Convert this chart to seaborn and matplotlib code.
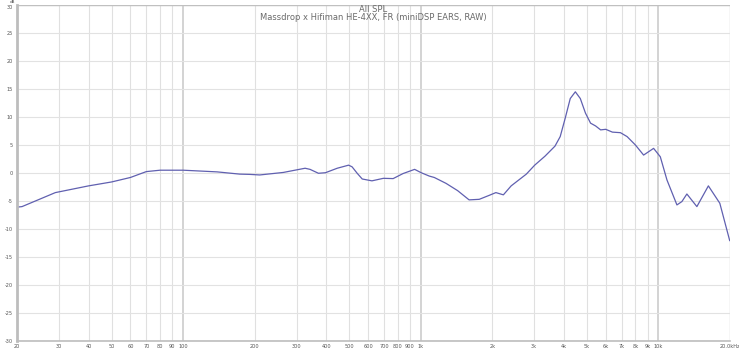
import matplotlib
matplotlib.use("Agg")
import matplotlib.pyplot as plt
import seaborn as sns
import pandas as pd
from matplotlib.ticker import FixedLocator, NullLocator, FixedFormatter

freq_hz = [20, 21, 29, 40, 50, 60, 70, 80, 100, 139, 173, 191, 210, 264, 326, 342,
           371, 397, 445, 497, 514, 540, 567, 623, 696, 765, 842, 942, 1004, 1086,
           1140, 1277, 1429, 1597, 1762, 1938, 2070, 2226, 2400, 2780, 3015, 3330,
           3670, 3860, 4050, 4255, 4470, 4690, 4930, 5180, 5440, 5710, 6000, 6400,
           6920, 7380, 8000, 8660, 9540, 10180, 10860, 11960, 12550, 13170, 14510,
           16220, 18120, 19950]
spl_db = [-6.1, -6.0, -3.5, -2.3, -1.6, -0.8, 0.25, 0.5, 0.5, 0.2, -0.2, -0.25, -0.35,
          0.1, 0.85, 0.65, -0.05, 0.05, 0.85, 1.4, 1.1, -0.05, -1.07, -1.4, -0.95,
          -1.0, -0.1, 0.65, 0.05, -0.55, -0.8, -1.85, -3.15, -4.8, -4.7, -4.0, -3.5,
          -3.9, -2.3, -0.2, 1.4, 3.0, 4.8, 6.5, 9.75, 13.3, 14.5, 13.3, 10.7, 8.9,
          8.4, 7.7, 7.8, 7.3, 7.2, 6.5, 5.0, 3.2, 4.4, 2.9, -1.25, -5.7, -5.1, -3.75,
          -6.0, -2.3, -5.4, -12.1]

x_ticks = [20, 30, 40, 50, 60, 70, 80, 90, 100, 200, 300, 400, 500, 600, 700, 800,
           900, 1000, 2000, 3000, 4000, 5000, 6000, 7000, 8000, 9000, 10000, 20000]
x_labels = ["20", "30", "40", "50", "60", "70", "80", "90", "100", "200", "300", "400",
            "500", "600", "700", "800", "900", "1k", "2k", "3k", "4k", "5k", "6k", "7k",
            "8k", "9k", "10k", "20.0kHz"]
y_ticks = [-30, -25, -20, -15, -10, -5, 0, 5, 10, 15, 20, 25, 30]
y_labels = [str(v) for v in y_ticks]

title = "All SPL"
subtitle = "Massdrop x Hifiman HE-4XX, FR (miniDSP EARS, RAW)"

sns.set_style("white")
plt.rcParams['font.family'] = ['DejaVu Sans']

df = pd.DataFrame({"freq": freq_hz, "spl": spl_db})

fig = plt.figure(figsize=(7.39, 3.49), dpi=100)
ax = fig.add_axes([17/739, 8/349, 713/739, 336/349])

sns.lineplot(data=df, x="freq", y="spl", ax=ax, color="#6060b0", linewidth=0.9,
             estimator=None)

ax.set_xscale("log")
ax.set_xlim(20, 20000)
ax.set_ylim(-30, 30)
ax.xaxis.set_major_locator(FixedLocator(x_ticks))
ax.xaxis.set_major_formatter(FixedFormatter(x_labels))
ax.xaxis.set_minor_locator(NullLocator())
ax.set_yticks(y_ticks)
ax.set_yticklabels(y_labels)
ax.set_xlabel("")
ax.set_ylabel("")

for xv in x_ticks:
    if xv in (100, 1000, 10000):
        ax.axvline(xv, color="#c8c8c8", lw=1.1, zorder=0)
    elif xv not in (20, 20000):
        ax.axvline(xv, color="#e0e0e0", lw=0.8, zorder=0)
ax.axvline(20000, color="#d4d4d4", lw=1.0, zorder=0)
for yv in y_ticks:
    ax.axhline(yv, color="#e2e2e2", lw=0.8, zorder=0)
ax.axhline(30, color="#c0c0c0", lw=1.0, zorder=0)

for s in ("top", "right"):
    ax.spines[s].set_visible(False)
ax.spines["left"].set_color("#bdbdbd")
ax.spines["left"].set_linewidth(2.0)
ax.spines["bottom"].set_color("#bdbdbd")
ax.spines["bottom"].set_linewidth(1.2)

ax.tick_params(axis="both", length=0, labelsize=3.6, labelcolor="#555555", pad=2)
ax.tick_params(axis="y", pad=3)
# nudge the top "30" label slightly down so the "dB" unit sits clear above it
ax.get_yticklabels()[-1].set_va("top")

fig.text(13/739, 1.0, "dB", fontsize=3.0, color="#555555",
         ha="center", va="top")

ax.text(0.5, 0.999, title, transform=ax.transAxes, fontsize=6, color="#6a6a6a",
        ha="center", va="top")
ax.text(0.5, 0.975, subtitle, transform=ax.transAxes, fontsize=6, color="#6a6a6a",
        ha="center", va="top")

fig.savefig("out.png", dpi=100, facecolor="white")
